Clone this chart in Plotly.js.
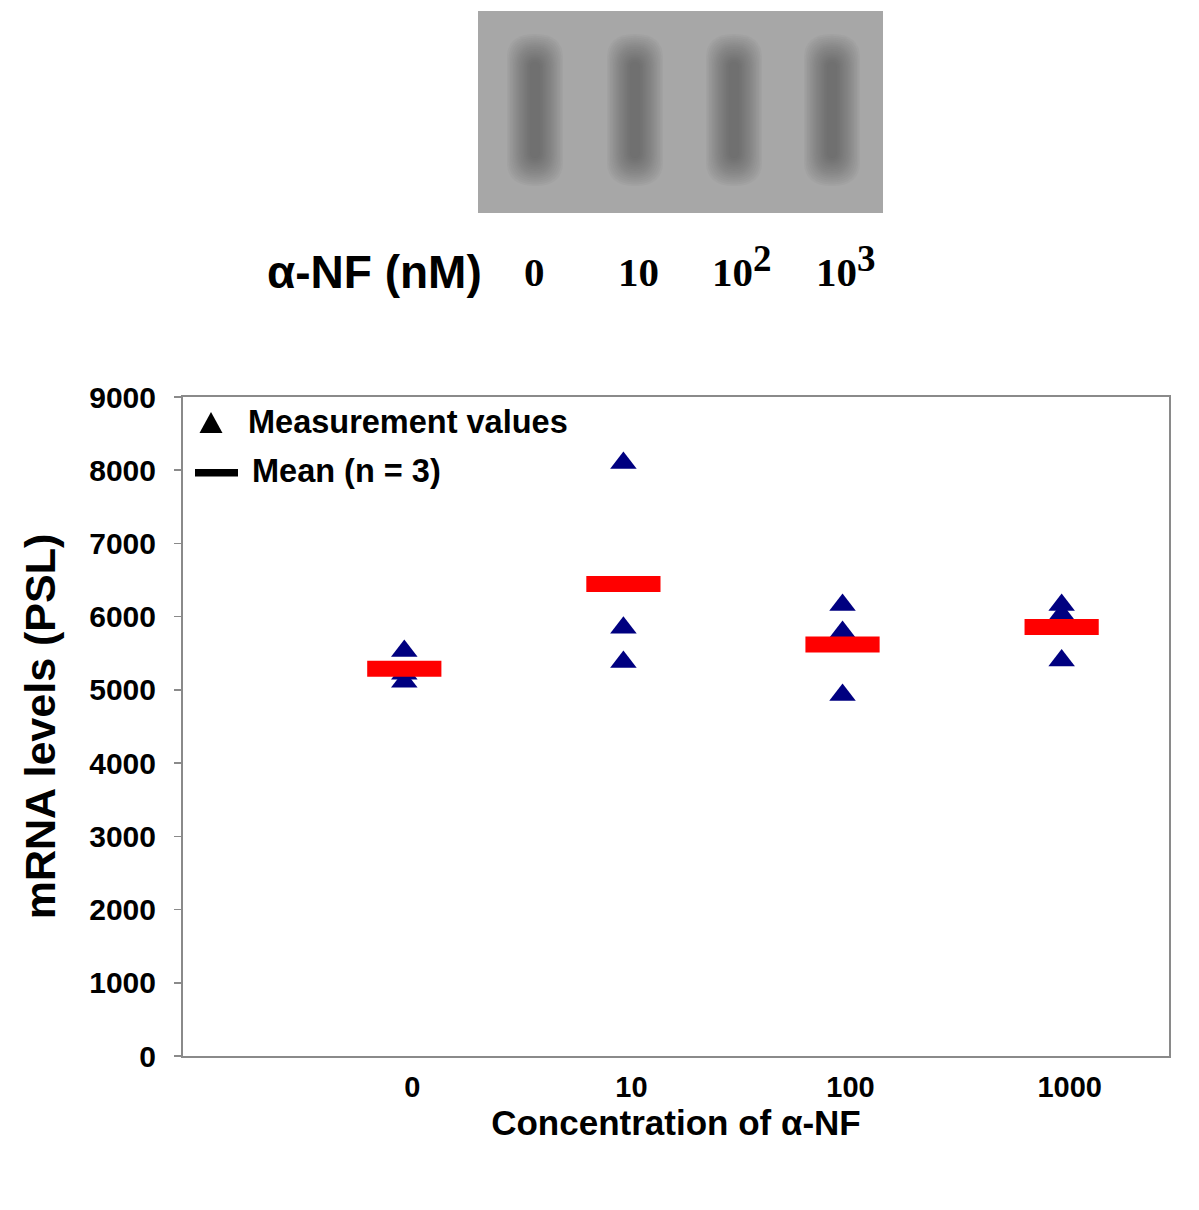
<!DOCTYPE html>
<html>
<head>
<meta charset="utf-8">
<script src="https://cdn.plot.ly/plotly-3.0.1.min.js"></script>
<style>html,body{margin:0;padding:0;background:#fff;}</style>
</head>
<body>
<div id="chart" style="width:1199px;height:1210px;"></div>
<script>
// ---- data ----
const concLabels = ['0', '10', '100', '1000'];
const meas0    = [5530, 5220, 5110];
const meas10   = [8100, 5850, 5380];
const meas100  = [6160, 5790, 4930];
const meas1000 = [6160, 6030, 5400];
const meanVals = [5290, 6445, 5620, 5860];
const gelLaneBase = ['0', '10', '10', '10'];
const gelLaneExp  = ['', '', '2', '3'];
const legendLabels = ['Measurement values', 'Mean (n = 3)'];

// ---- layout helpers (pixel -> paper) ----
const L = 183, R = 30, T = 10, B = 154, W = 1199, H = 1210;
const PW = W - L - R, PH = H - T - B;
const px = x => (x - L) / PW;
const py = y => (H - B - y) / PH;

const groups = [meas0, meas10, meas100, meas1000];
const triX = [], triY = [];
groups.forEach((g, i) => g.forEach(v => { triX.push(concLabels[i]); triY.push(v); }));

const traces = [
  {
    type: 'scatter', mode: 'markers', x: triX, y: triY, showlegend: false,
    marker: {symbol: 'triangle-up', size: 23, color: '#000080'},
    hoverinfo: 'x+y'
  },
  {
    type: 'scatter', mode: 'markers', x: concLabels, y: meanVals, showlegend: false,
    marker: {symbol: 'line-ew', size: 53, color: '#ff0000', line: {color: '#ff0000', width: 16}},
    hoverinfo: 'x+y'
  }
];

// ---- gel picture (decoration) ----
const shapes = [];
shapes.push({type: 'rect', xref: 'paper', yref: 'paper', x0: px(478), x1: px(883), y0: py(11), y1: py(213),
  fillcolor: '#a7a7a7', line: {width: 0}, layer: 'below'});
function stadium(cx, hw, top, bot) {
  const r = Math.min(hw * 1.2, 24);
  const P = (x, y) => px(x) + ',' + py(y);
  return 'M' + P(cx - hw, top + r) + ' L' + P(cx - hw, bot - r) +
    ' Q' + P(cx - hw, bot) + ' ' + P(cx, bot) +
    ' Q' + P(cx + hw, bot) + ' ' + P(cx + hw, bot - r) +
    ' L' + P(cx + hw, top + r) +
    ' Q' + P(cx + hw, top) + ' ' + P(cx, top) +
    ' Q' + P(cx - hw, top) + ' ' + P(cx - hw, top + r) + ' Z';
}
const bandCenters = [537, 637, 736, 834];
const nLayers = 16;
bandCenters.forEach(c => {
  for (let k = 0; k < nLayers; k++) {
    const f = k / (nLayers - 1);
    const hw = 28 - 23 * f;
    const top = 34 + 28 * f;
    const bot = 186 - 28 * f;
    shapes.push({type: 'path', xref: 'paper', yref: 'paper', path: stadium(c - 2, hw, top, bot),
      fillcolor: '#4a4a4a', opacity: 0.05, line: {width: 0}, layer: 'below'});
  }
});

// ---- legend (drawn manually to match symbol sizes) ----
shapes.push({type: 'path', xref: 'paper', yref: 'paper',
  path: 'M ' + px(199.5) + ' ' + py(433) + ' L ' + px(222.5) + ' ' + py(433) + ' L ' + px(211) + ' ' + py(412) + ' Z',
  fillcolor: '#000000', line: {width: 0}});
shapes.push({type: 'rect', xref: 'paper', yref: 'paper', x0: px(195), x1: px(238), y0: py(469), y1: py(476.5),
  fillcolor: '#000000', line: {width: 0}});

const annotations = [];
annotations.push({xref: 'paper', yref: 'paper', x: px(246), y: py(422), xanchor: 'left', yanchor: 'middle',
  text: legendLabels[0], showarrow: false, font: {family: 'Liberation Sans, Arial, sans-serif', size: 32.5, weight: 'bold', color: '#000'}});
annotations.push({xref: 'paper', yref: 'paper', x: px(250), y: py(471), xanchor: 'left', yanchor: 'middle',
  text: legendLabels[1], showarrow: false, font: {family: 'Liberation Sans, Arial, sans-serif', size: 32.5, weight: 'bold', color: '#000'}});

// gel labels
annotations.push({xref: 'paper', yref: 'paper', x: px(484), y: py(272), xanchor: 'right', yanchor: 'middle',
  text: 'α-NF (nM)', showarrow: false,
  font: {family: 'Liberation Sans, Arial, sans-serif', size: 46, weight: 'bold', color: '#000'}});
const laneBaseX = [534, 638, 732, 836];
const laneExpX  = [0, 0, 751, 855];
gelLaneBase.forEach((t, i) => {
  annotations.push({xref: 'paper', yref: 'paper', x: px(laneBaseX[i]), y: py(272), xanchor: 'center', yanchor: 'middle',
    text: t, showarrow: false, font: {family: 'Liberation Serif, Times New Roman, serif', size: 41, weight: 'bold', color: '#000'}});
  if (gelLaneExp[i]) {
    annotations.push({xref: 'paper', yref: 'paper', x: px(laneExpX[i]), y: py(258), xanchor: 'left', yanchor: 'middle',
      text: gelLaneExp[i], showarrow: false, font: {family: 'Liberation Serif, Times New Roman, serif', size: 37, weight: 'bold', color: '#000'}});
  }
});

const layout = {
  width: W, height: H,
  margin: {l: L, r: R, t: T, b: B, pad: 0},
  paper_bgcolor: '#ffffff', plot_bgcolor: '#ffffff',
  showlegend: false,
  font: {family: 'Liberation Sans, Arial, sans-serif', color: '#000'},
  xaxis: {
    type: 'category', categoryorder: 'array', categoryarray: concLabels,
    range: [-1.01, 3.49], showgrid: false, zeroline: false,
    showline: true, linecolor: '#8a8a8a', linewidth: 2, mirror: true,
    ticks: '', ticklabelstandoff: 4, ticklabelshift: 8,
    tickfont: {family: 'Liberation Sans, Arial, sans-serif', size: 29, weight: 'bold', color: '#000'},
    title: {text: 'Concentration of α-NF', standoff: 0,
      font: {family: 'Liberation Sans, Arial, sans-serif', size: 35, weight: 'bold', color: '#000'}},
    anchor: 'y', fixedrange: true
  },
  yaxis: {
    domain: [0, py(397)], range: [0, 9000], dtick: 1000, tick0: 0,
    showgrid: false, zeroline: false,
    showline: true, linecolor: '#8a8a8a', linewidth: 2, mirror: true,
    ticks: 'outside', ticklen: 7, tickwidth: 1.5, tickcolor: '#8a8a8a',
    ticklabelstandoff: 12,
    tickfont: {family: 'Liberation Sans, Arial, sans-serif', size: 30, weight: 'bold', color: '#000'},
    title: {text: 'mRNA levels (PSL)', standoff: 20,
      font: {family: 'Liberation Sans, Arial, sans-serif', size: 43, weight: 'bold', color: '#000'}},
    fixedrange: true
  },
  shapes: shapes,
  annotations: annotations
};

Plotly.newPlot('chart', traces, layout, {displayModeBar: false, staticPlot: true});
</script>
</body>
</html>
